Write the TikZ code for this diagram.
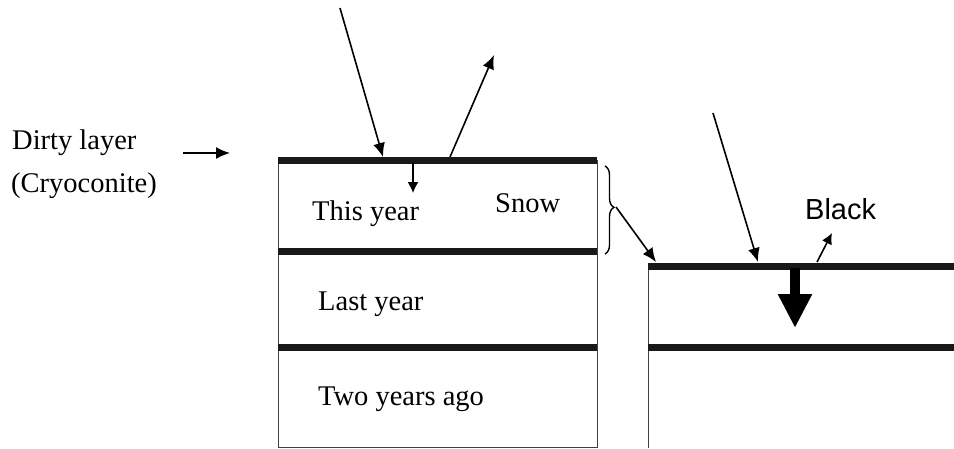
\documentclass[tikz,border=0pt]{standalone}
\usepackage{fontspec}
\setmainfont{Liberation Serif}
\newfontfamily\blackfont{Liberation Sans}
\usetikzlibrary{arrows.meta,decorations.pathreplacing}
\begin{document}
\begin{tikzpicture}[x=1pt,y=-1pt,
  lbl/.style={anchor=base west,inner sep=0pt,font=\fontsize{28.5}{30}\selectfont},
  thin/.style={line width=1pt,draw=black!75},
  thick layer/.style={line width=7pt,draw=black!90},
  ray/.style={line width=1.6pt,-{Latex[length=14pt,width=12pt]}},
  small ray/.style={line width=1.6pt,-{Latex[length=11pt,width=11pt]}}]
\useasboundingbox (0,0) rectangle (954,448);
% left column
\coordinate (LTL) at (278,160);
\coordinate (LTR) at (597,160);
\coordinate (L2L) at (278,251);
\coordinate (L2R) at (597,251);
\coordinate (L3L) at (278,347);
\coordinate (L3R) at (597,347);
\coordinate (LBL) at (278,447);
\coordinate (LBR) at (597,447);
\draw[thin] (LTL) -- (LBL) -- (LBR) -- (LTR);
\draw[thick layer] (LTL) -- (LTR);
\draw[thick layer] (L2L) -- (L2R);
\draw[thick layer] (L3L) -- (L3R);
% right column
\coordinate (RTL) at (648,266);
\coordinate (RTR) at (954,266);
\coordinate (R2L) at (648,347);
\coordinate (R2R) at (954,347);
\coordinate (RBL) at (648,448);
\draw[thin] (RTL) -- (RBL);
\draw[thick layer] (RTL) -- (RTR);
\draw[thick layer] (R2L) -- (R2R);
% texts
\node[lbl] (dirty) at (12,149) {Dirty layer};
\node[lbl] (cryo) at (11,192) {(Cryoconite)};
\node[lbl] (this) at (312,220) {This year};
\node[lbl] (snow) at (495,212) {Snow};
\node[lbl] (last) at (318,310) {Last year};
\node[lbl] (two) at (318,405) {Two years ago};
\node[lbl,font=\blackfont\fontsize{29}{31}\selectfont] (black) at (805,219) {Black};
% dirty layer arrow
\coordinate (da1) at (183,153);
\coordinate (da2) at (230,153);
\draw[ray] (da1) -- (da2);
% left rays
\coordinate (in1) at (340,8);
\coordinate (in1e) at (383,157);
\draw[ray] (in1) -- (in1e);
\coordinate (out1s) at (450,157);
\coordinate (out1e) at (494,55);
\draw[ray] (out1s) -- (out1e);
\coordinate (dn1s) at (413,163);
\coordinate (dn1e) at (413,193);
\draw[small ray] (dn1s) -- (dn1e);
% brace
\coordinate (brT) at (605,166);
\coordinate (brB) at (605,254);
\draw[line width=1.4pt,decorate,decoration={brace,amplitude=9pt,aspect=0.47}] (brT) -- (brB);
\coordinate (brTip) at (616,207);
\coordinate (brEnd) at (656,262);
\draw[ray] (brTip) -- (brEnd);
% right rays
\coordinate (in2) at (713,113);
\coordinate (in2e) at (758,262);
\draw[ray] (in2) -- (in2e);
\coordinate (out2s) at (817,262);
\coordinate (out2e) at (832,233);
\draw[small ray] (out2s) -- (out2e);
% big downward arrow
\coordinate (bigs) at (795,268);
\coordinate (bige) at (795,328);
\draw[line width=10pt,-{Triangle[length=34pt,width=32pt]}] (bigs) -- (bige);
\end{tikzpicture}
\end{document}
